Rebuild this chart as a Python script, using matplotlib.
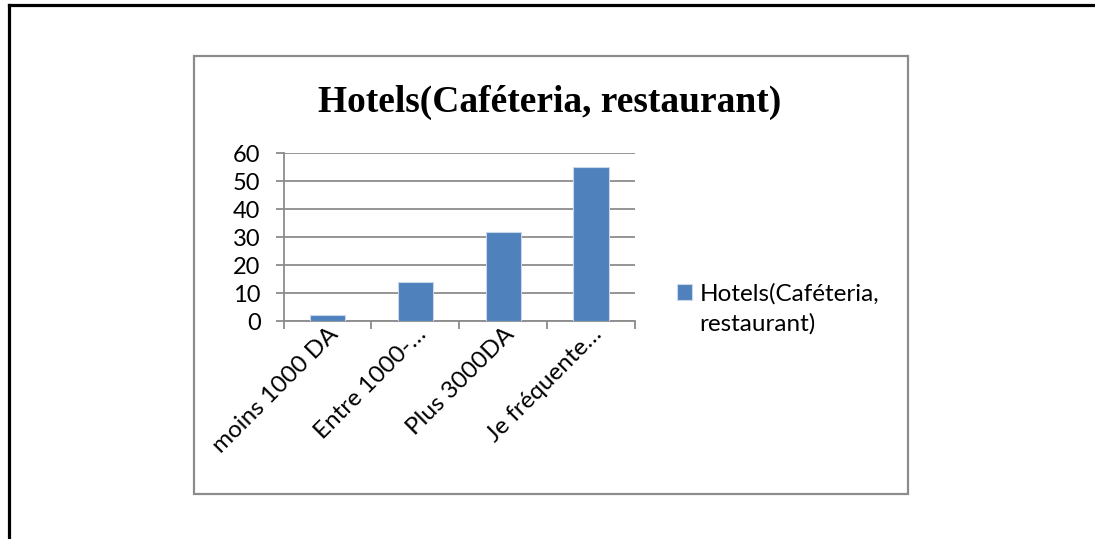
import matplotlib.pyplot as plt
from matplotlib.lines import Line2D
from matplotlib.patches import Rectangle

# Dépenses par visite - Hotels
categories = ["moins 1000 DA", "Entre 1000-\u2026", "Plus 3000DA", "Je fr\u00e9quente\u2026"]
values = [2, 14, 32, 55]
series_name = "Hotels(Caf\u00e9teria,\nrestaurant)"
title = "Hotels(Caf\u00e9teria, restaurant)"

W, H = 1095, 539
fig = plt.figure(figsize=(W / 100, H / 100), dpi=100)

# page frame (top and left rule)
fig.add_artist(Line2D([8.5 / W, 8.5 / W], [0, 1 - 4.5 / H], color="black", lw=2.3,
                      transform=fig.transFigure, solid_capstyle="projecting"))
fig.add_artist(Line2D([8.5 / W, 1], [1 - 4.5 / H, 1 - 4.5 / H], color="black", lw=2.3,
                      transform=fig.transFigure, solid_capstyle="projecting"))

# chart area border
fig.add_artist(Rectangle((194 / W, 1 - 494 / H), (908 - 194) / W, (494 - 56) / H,
                         transform=fig.transFigure, fill=False, edgecolor="#8c8c8c", lw=1.6))

ax = fig.add_axes([283.5 / W, 1 - 321 / H, (635 - 283.5) / W, (321 - 153.3) / H])

x = range(len(categories))
ax.bar(x, values, width=0.4, color="#4F81BD", edgecolor="#c9d7ea", linewidth=0.8,
       label=series_name, zorder=3)

ax.set_xlim(-0.5, len(categories) - 0.5)
ax.set_ylim(0, 60)
ax.set_yticks(range(0, 61, 10))
ax.yaxis.grid(True, color="#8c8c8c", lw=1.3, zorder=0)
ax.set_axisbelow(True)

for s in ["top", "right"]:
    ax.spines[s].set_visible(False)
for s in ["left", "bottom"]:
    ax.spines[s].set_color("#8c8c8c")
    ax.spines[s].set_linewidth(1.3)

lab_font = "Lato"
ax.tick_params(axis="y", length=5.5, width=1.3, color="#8c8c8c", labelsize=17, pad=11)
for t in ax.get_yticklabels():
    t.set_fontfamily(lab_font)

ax.set_xticks(list(x))
ax.set_xticks([i - 0.5 for i in range(len(categories) + 1)], minor=True)
ax.tick_params(axis="x", which="major", length=0, pad=2)
ax.tick_params(axis="x", which="minor", length=6, width=1.3, color="#8c8c8c")
ax.set_xticklabels(categories, rotation=45, ha="right", rotation_mode="anchor",
                   fontsize=17.5, fontfamily=lab_font)

fig.text(550 / W, 1 - 102 / H, title, ha="center", va="center",
         fontsize=27, fontweight="bold", fontfamily="Liberation Serif")

leg = fig.legend(loc="upper left", bbox_to_anchor=(677 / W, 1 - 283 / H), frameon=False,
                 prop={"family": lab_font, "size": 17.5}, handlelength=0.62, handleheight=0.62,
                 handletextpad=0.3, borderaxespad=0, borderpad=0)
for t in leg.get_texts():
    t.set_linespacing(1.5)
# keep the swatch level with the first line of the label
swatch = leg.legend_handles[0]
swatch.set_y(swatch.get_y() + 12)

fig.savefig("out.png", dpi=100)
